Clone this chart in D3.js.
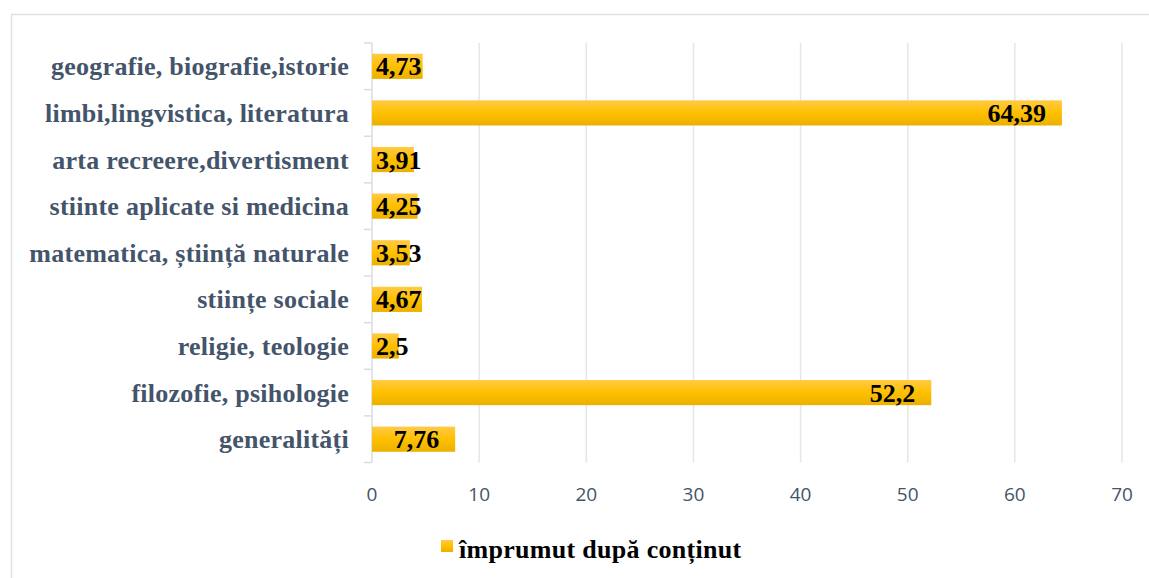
<!DOCTYPE html>
<html>
<head>
<meta charset="utf-8">
<script src="https://cdn.jsdelivr.net/npm/d3@7"></script>
<style>
  body { margin: 0; background: #fff; }
</style>
</head>
<body>
<div id="chart"></div>
<script>
  // values, top row first
  var categories = ["geografie, biografie,istorie", "limbi,lingvistica, literatura",
    "arta recreere,divertisment", "stiinte aplicate si medicina",
    "matematica, știință naturale", "stiințe sociale", "religie, teologie",
    "filozofie, psihologie", "generalități"];
  var values = [4.73, 64.39, 3.91, 4.25, 3.53, 4.67, 2.5, 52.2, 7.76];
  var xTicks = [0, 10, 20, 30, 40, 50, 60, 70];
  var seriesName = "împrumut după conținut";

  var W = 1149, H = 578;
  var serif = "'Liberation Serif', 'Times New Roman', serif";
  var svg = d3.select("#chart").append("svg").attr("width", W).attr("height", H);

  // gold gradient for bars and legend
  var grad = svg.append("defs").append("linearGradient")
    .attr("id", "gold").attr("x1", 0).attr("y1", 0).attr("x2", 0).attr("y2", 1);
  grad.append("stop").attr("offset", "0%").attr("stop-color", "#ffca45");
  grad.append("stop").attr("offset", "50%").attr("stop-color", "#ffc000");
  grad.append("stop").attr("offset", "100%").attr("stop-color", "#ebb000");

  // chart area border (top and left visible)
  svg.append("path")
    .attr("d", "M11.5," + H + "V14.5H" + W)
    .attr("fill", "none").attr("stroke", "#dde2e8").attr("stroke-width", 1.5);

  var x = d3.scaleLinear().domain([0, 70]).range([372, 1122]);
  var y = d3.scaleBand().domain(categories).range([43, 462.5]).paddingInner(0.46).paddingOuter(0.23);

  // gridlines
  svg.append("g").selectAll("line")
    .data(xTicks.slice(1))
    .enter().append("line")
    .attr("x1", function (d) { return x(d); }).attr("x2", function (d) { return x(d); })
    .attr("y1", 43).attr("y2", 462.5)
    .attr("stroke", "#e3e6ea").attr("stroke-width", 1.5);

  // x tick labels
  svg.append("g").selectAll("text")
    .data(xTicks)
    .enter().append("text")
    .attr("x", function (d) { return x(d); })
    .attr("y", 501)
    .attr("text-anchor", "middle")
    .style("font-family", "'Open Sans', sans-serif")
    .style("font-size", "19px")
    .style("fill", "#44546a")
    .text(function (d) { return d; });

  // y axis line with category boundary ticks
  var bounds = d3.range(categories.length + 1).map(function (i) { return 43 + i * (462.5 - 43) / categories.length; });
  svg.append("line")
    .attr("x1", 372).attr("x2", 372).attr("y1", 43).attr("y2", 462.5)
    .attr("stroke", "#d9dde3").attr("stroke-width", 1.5);
  svg.append("g").selectAll("line")
    .data(bounds)
    .enter().append("line")
    .attr("x1", 364).attr("x2", 372)
    .attr("y1", function (d) { return d; }).attr("y2", function (d) { return d; })
    .attr("stroke", "#d9dde3").attr("stroke-width", 1.5);

  // category labels
  svg.append("g").selectAll("text")
    .data(categories)
    .enter().append("text")
    .attr("x", 349)
    .attr("y", function (d) { return y(d) + y.bandwidth() / 2; })
    .attr("dy", "0.35em")
    .attr("text-anchor", "end")
    .style("font-family", serif)
    .style("font-weight", "bold")
    .style("font-size", "26px")
    .style("letter-spacing", "0.25px")
    .style("fill", "#44546a")
    .text(function (d) { return d; });

  // bars
  svg.append("g").selectAll("rect")
    .data(values)
    .enter().append("rect")
    .attr("x", x(0))
    .attr("y", function (d, i) { return y(categories[i]); })
    .attr("width", function (d) { return x(d) - x(0); })
    .attr("height", y.bandwidth())
    .attr("fill", "url(#gold)");

  // data labels: inside end, clamped to bar start
  var fmt = function (v) { return String(v).replace(".", ","); };
  svg.append("g").selectAll("text")
    .data(values)
    .enter().append("text")
    .attr("y", function (d, i) { return y(categories[i]) + y.bandwidth() / 2; })
    .attr("dy", "0.35em")
    .attr("text-anchor", "end")
    .style("font-family", serif)
    .style("font-weight", "bold")
    .style("font-size", "26px")
    .style("fill", "#000")
    .text(fmt)
    .attr("x", function (d) {
      var w = this.getComputedTextLength();
      return Math.max(x(d) - 16, x(0) + 4 + w);
    });

  // legend
  var leg = svg.append("g");
  leg.append("rect").attr("x", 441).attr("y", 540).attr("width", 12).attr("height", 12).attr("fill", "url(#gold)");
  leg.append("text")
    .attr("x", 459).attr("y", 558)
    .style("font-family", serif)
    .style("font-weight", "bold")
    .style("font-size", "26px")
    .style("letter-spacing", "0.3px")
    .style("fill", "#000")
    .text(seriesName);
</script>
</body>
</html>
